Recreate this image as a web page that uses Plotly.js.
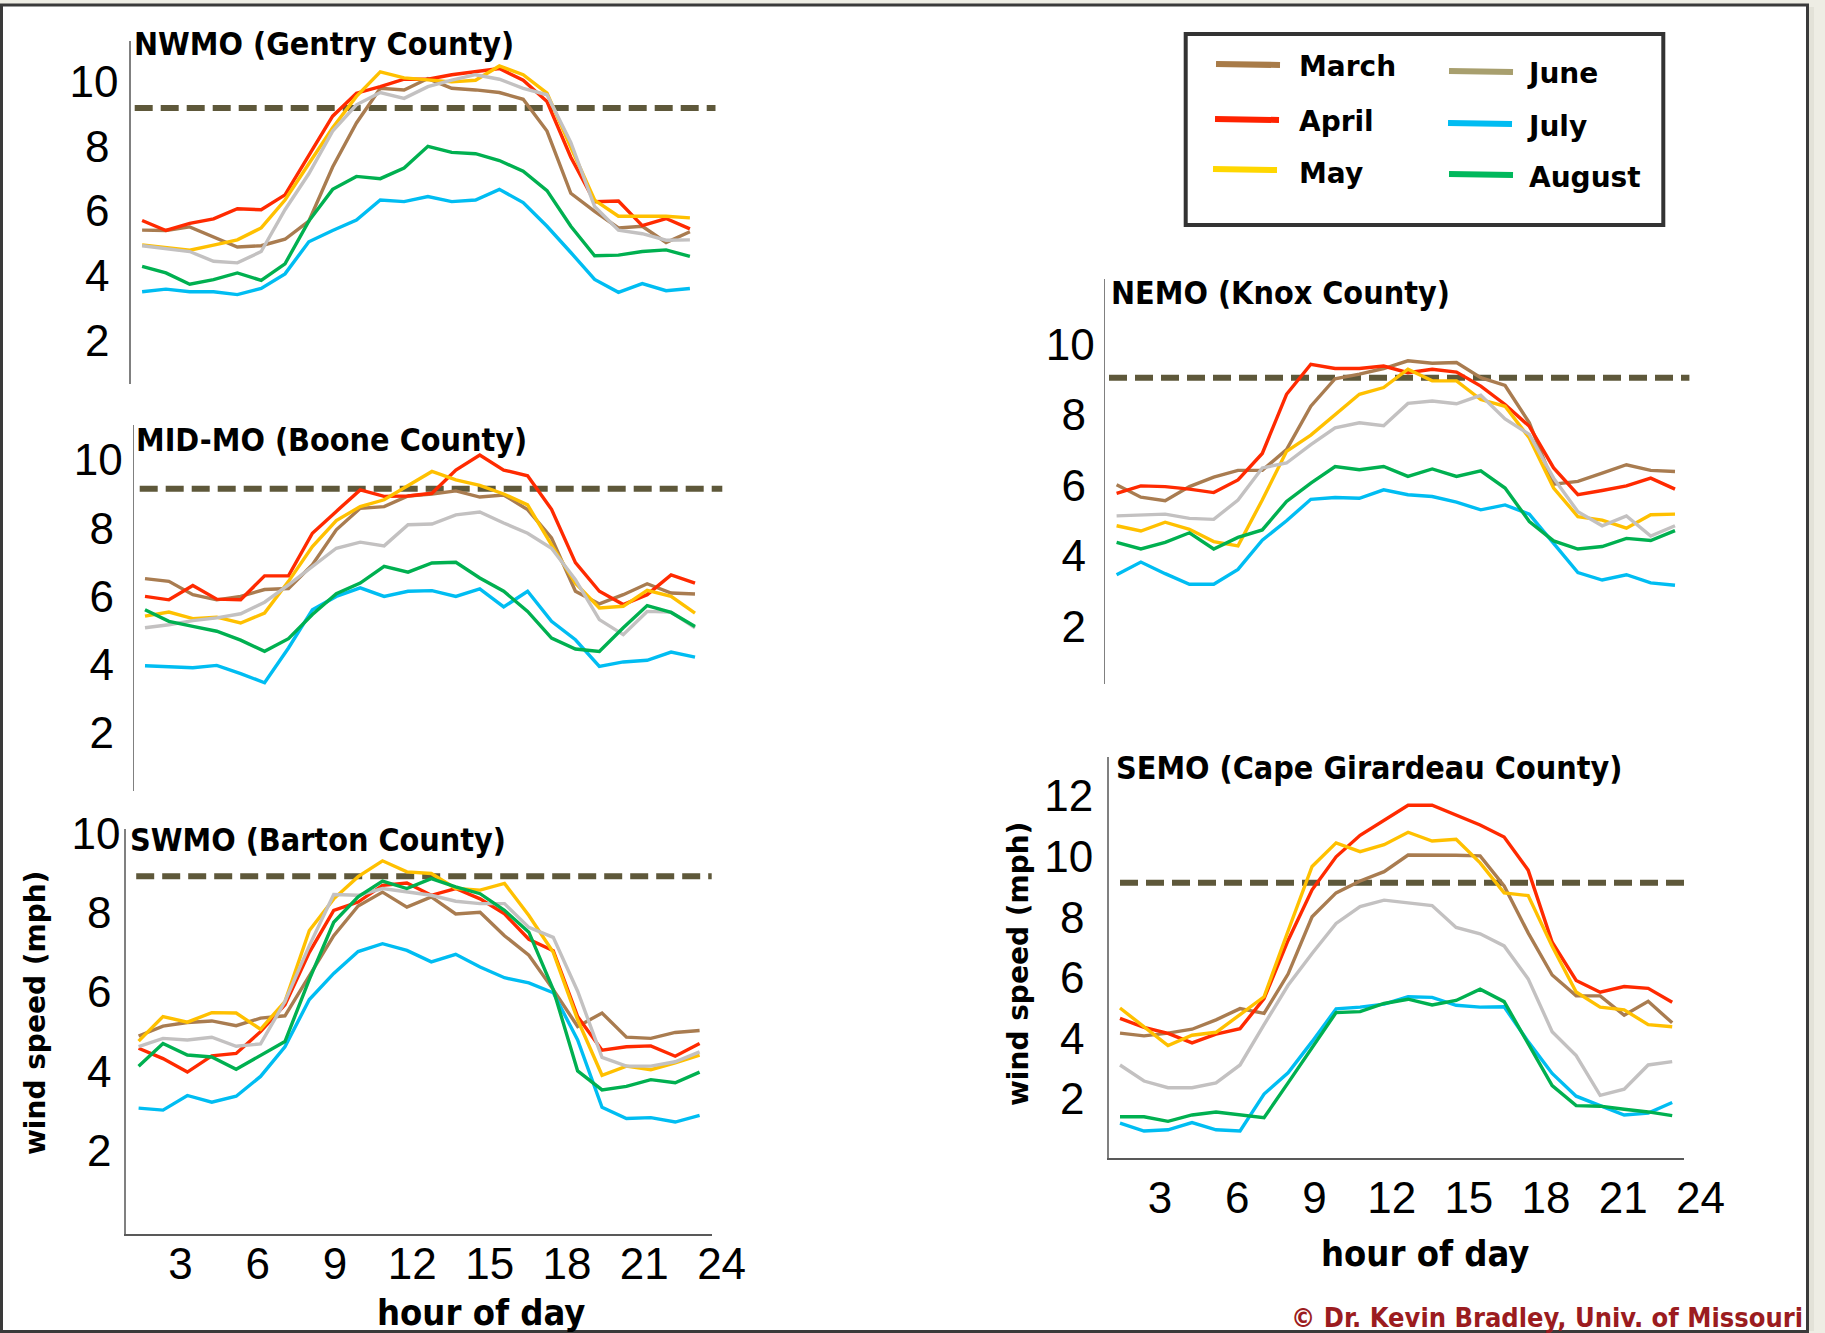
<!DOCTYPE html>
<html><head><meta charset="utf-8">
<script src="https://cdn.plot.ly/plotly-3.0.1.min.js"></script>
<style>html,body{margin:0;padding:0;background:#EEEDE4;}#chart{width:1825px;height:1333px;}</style>
</head><body><div id="chart"></div>
<script>
// ---------------- DATA ----------------
const hours = [1,2,3,4,5,6,7,8,9,10,11,12,13,14,15,16,17,18,19,20,21,22,23,24];
const months = ['March','April','May','June','July','August'];
const panelTitles = ['NWMO (Gentry County)','MID-MO (Boone County)','SWMO (Barton County)','NEMO (Knox County)','SEMO (Cape Girardeau County)'];
const thresholds = [9.18, 9.15, 8.92, 9.05, 9.13];
const yTickVals = [[2,4,6,8,10],[2,4,6,8,10],[2,4,6,8,10],[2,4,6,8,10],[2,4,6,8,10,12]];
const xTickVals = [3,6,9,12,15,18,21,24];
const xTitleText = 'hour of day';
const yTitleText = 'wind speed (mph)';
const creditText = '\u00A9 Dr. Kevin Bradley, Univ. of Missouri';

const nwmoMarch  = [5.41,5.40,5.51,5.21,4.89,4.93,5.13,5.69,7.36,8.72,9.79,9.74,10.09,9.79,9.74,9.66,9.45,8.47,6.55,5.99,5.48,5.53,5.03,5.36];
const nwmoApril  = [5.71,5.40,5.62,5.76,6.07,6.04,6.50,7.71,8.93,9.64,9.84,10.07,10.07,10.21,10.30,10.40,10.04,9.38,7.66,6.29,6.31,5.55,5.77,5.45];
const nwmoMay    = [4.95,4.87,4.79,4.95,5.11,5.48,6.34,7.46,8.57,9.54,10.30,10.11,10.04,9.99,10.04,10.48,10.21,9.64,7.97,6.34,5.84,5.84,5.84,5.79];
const nwmoJune   = [4.93,4.85,4.75,4.45,4.40,4.75,6.04,7.15,8.47,9.28,9.66,9.48,9.84,10.04,10.21,10.07,9.79,9.59,8.12,6.14,5.41,5.30,5.10,5.11];
const nwmoJuly   = [3.51,3.59,3.51,3.51,3.42,3.61,4.06,5.05,5.40,5.72,6.34,6.29,6.45,6.29,6.34,6.67,6.26,5.53,4.72,3.89,3.49,3.76,3.54,3.61];
const nwmoAugust = [4.29,4.09,3.74,3.88,4.09,3.86,4.37,5.69,6.67,7.07,7.00,7.33,8.00,7.81,7.77,7.56,7.23,6.63,5.53,4.62,4.64,4.75,4.80,4.60];

const midMarch  = [6.52,6.44,6.05,5.90,6.00,6.20,6.23,6.93,7.95,8.58,8.63,8.94,9.00,9.09,8.91,8.97,8.54,7.71,6.15,5.78,6.05,6.37,6.10,6.07];
const midApril  = [6.00,5.90,6.32,5.92,5.90,6.60,6.60,7.85,8.49,9.12,8.93,8.94,9.02,9.70,10.14,9.70,9.53,8.55,6.99,6.15,5.76,6.05,6.63,6.39];
const midMay    = [5.42,5.54,5.35,5.39,5.22,5.51,6.44,7.46,8.22,8.63,8.83,9.24,9.66,9.41,9.25,9.00,8.68,7.51,6.39,5.66,5.71,6.18,6.00,5.51];
const midJune   = [5.08,5.17,5.29,5.37,5.49,5.83,6.34,6.88,7.41,7.59,7.48,8.10,8.12,8.39,8.47,8.15,7.85,7.41,6.49,5.32,4.88,5.56,5.54,5.08];
const midJuly   = [3.97,3.93,3.91,3.98,3.74,3.47,4.49,5.61,6.00,6.25,6.00,6.15,6.17,6.00,6.22,5.69,6.15,5.27,4.73,3.95,4.08,4.13,4.37,4.22];
const midAugust = [5.61,5.27,5.12,4.98,4.72,4.39,4.76,5.47,6.08,6.39,6.88,6.71,6.98,7.00,6.54,6.15,5.56,4.78,4.46,4.39,5.08,5.73,5.53,5.12];

const swmoMarch  = [4.89,5.14,5.23,5.27,5.15,5.34,5.40,6.40,7.42,8.17,8.52,8.14,8.40,7.97,8.01,7.42,6.93,6.06,5.13,5.47,4.86,4.83,4.98,5.03];
const swmoApril  = [4.58,4.32,3.98,4.39,4.45,5.00,5.68,7.00,8.06,8.27,8.69,8.75,8.44,8.61,8.35,7.97,7.33,7.04,5.38,4.53,4.62,4.64,4.38,4.70];
const swmoMay    = [4.76,5.38,5.24,5.48,5.47,5.06,5.76,7.55,8.35,8.91,9.31,9.03,8.99,8.61,8.57,8.74,7.93,7.00,5.30,3.90,4.13,4.04,4.21,4.41];
const swmoJune   = [4.62,4.83,4.79,4.86,4.63,4.69,5.76,7.17,8.46,8.44,8.61,8.52,8.44,8.29,8.23,8.23,7.63,7.38,6.02,4.35,4.13,4.13,4.24,4.49];
const swmoJuly   = [3.07,3.02,3.39,3.22,3.37,3.87,4.62,5.81,6.47,7.02,7.22,7.05,6.76,6.95,6.63,6.36,6.23,5.98,4.79,3.09,2.81,2.83,2.72,2.89];
const swmoAugust = [4.13,4.70,4.41,4.36,4.05,4.41,4.75,6.32,7.76,8.40,8.80,8.61,8.86,8.65,8.48,8.06,7.51,6.06,4.01,3.53,3.62,3.79,3.71,3.98];

const nemoMarch  = [6.01,5.66,5.56,5.96,6.23,6.42,6.42,7.01,8.24,9.02,9.15,9.31,9.53,9.46,9.48,9.05,8.83,7.77,6.03,6.11,6.34,6.58,6.42,6.39];
const nemoApril  = [5.77,5.98,5.96,5.89,5.79,6.15,6.90,8.58,9.43,9.31,9.31,9.38,9.19,9.29,9.21,8.81,8.29,7.67,6.49,5.73,5.85,5.98,6.20,5.89];
const nemoMay    = [4.85,4.70,4.95,4.75,4.40,4.28,5.58,6.96,7.42,8.01,8.58,8.77,9.29,8.96,8.96,8.43,8.24,7.34,5.92,5.11,5.01,4.78,5.16,5.18];
const nemoJune   = [5.13,5.15,5.18,5.06,5.03,5.58,6.49,6.63,7.15,7.63,7.77,7.69,8.32,8.39,8.31,8.55,7.88,7.44,6.20,5.25,4.85,5.13,4.56,4.85];
const nemoJuly   = [3.46,3.82,3.49,3.19,3.19,3.61,4.44,4.99,5.60,5.65,5.63,5.87,5.73,5.68,5.52,5.30,5.44,5.18,4.35,3.52,3.31,3.46,3.23,3.16];
const nemoAugust = [4.38,4.19,4.38,4.65,4.19,4.52,4.73,5.54,6.06,6.53,6.44,6.53,6.25,6.46,6.25,6.41,5.92,4.97,4.42,4.19,4.26,4.49,4.43,4.71];

const semoMarch  = [4.17,4.08,4.17,4.30,4.61,4.98,4.82,6.12,8.01,8.80,9.19,9.50,10.05,10.05,10.04,10.02,9.03,7.48,6.09,5.40,5.40,4.76,5.22,4.51];
const semoApril  = [4.66,4.36,4.16,3.85,4.14,4.32,5.31,7.23,8.90,9.99,10.70,11.19,11.69,11.69,11.38,11.04,10.64,9.55,7.17,5.91,5.52,5.71,5.65,5.19];
const semoMay    = [5.00,4.38,3.76,4.10,4.20,4.78,5.37,7.54,9.67,10.45,10.16,10.39,10.80,10.51,10.57,9.79,8.80,8.71,7.04,5.53,5.03,4.94,4.45,4.38];
const semoJune   = [3.12,2.59,2.37,2.37,2.53,3.12,4.45,5.75,6.80,7.79,8.35,8.56,8.47,8.38,7.66,7.45,7.05,5.96,4.22,3.43,2.12,2.32,3.12,3.23];
const semoJuly   = [1.20,0.94,0.98,1.22,0.98,0.94,2.16,2.86,3.89,4.97,5.03,5.13,5.37,5.35,5.09,5.03,5.04,3.89,2.84,2.09,1.78,1.47,1.53,1.88];
const semoAugust = [1.41,1.41,1.26,1.47,1.57,1.47,1.38,2.53,3.70,4.85,4.88,5.15,5.29,5.10,5.25,5.62,5.21,3.83,2.44,1.78,1.76,1.66,1.57,1.45];

const panelSeries = [
  [nwmoMarch, nwmoApril, nwmoMay, nwmoJune, nwmoJuly, nwmoAugust],
  [midMarch, midApril, midMay, midJune, midJuly, midAugust],
  [swmoMarch, swmoApril, swmoMay, swmoJune, swmoJuly, swmoAugust],
  [nemoMarch, nemoApril, nemoMay, nemoJune, nemoJuly, nemoAugust],
  [semoMarch, semoApril, semoMay, semoJune, semoJuly, semoAugust]
];

// ---------------- STYLE / GEOMETRY ----------------
const lineColors   = ['#A97C50','#FF2A00','#FFC000','#C3C1C1','#00BDF2','#00B050'];
const legendColors = ['#A87B48','#FF2200','#FFD700','#A89F6E','#00BCF2','#00B85C'];
const W = 1825, H = 1333;
const geo = [
  {L:130.7,R:720,top:40.7,bottom:384,p1:142.1,p24:689.9,yr:[0.66,11.26],dash:[134.7,715.5],title:[131.5,44],xline:false,ystand:2},
  {L:134,R:726,top:425,bottom:791,p1:145,p24:695,yr:[0.30,11.02],dash:[139.7,722.3],title:[134,440],xline:false,ystand:1},
  {L:125.7,R:711.7,top:828.7,bottom:1233.8,p1:138.6,p24:699.6,yr:[-0.10,10.12],dash:[136.2,711.7],title:[128,840],xline:true,ystand:-5,
   lab:{p3:180.4,p24:721.6,R:745,stand:0},xt:[481,1312],yt:[35,1013]},
  {L:1105,R:1695,top:279,bottom:684,p1:1116.6,p24:1675,yr:[0.36,11.85],dash:[1109,1689.4],title:[1109,293],xline:false,ystand:0},
  {L:1108.5,R:1684,top:756.5,bottom:1158,p1:1120,p24:1672.2,yr:[0.05,13.30],dash:[1120,1684],title:[1114,768],xline:true,ystand:5,
   lab:{p3:1160,p24:1700.5,R:1725,stand:10},xt:[1424.6,1253.5],yt:[1018,964]}
];
const tickFont = {family:'Liberation Sans Narrow, Arial Narrow, sans-serif', size:44, color:'#000'};
const condBold = 'DejaVu Sans Condensed, DejaVu Sans, sans-serif';

const traces = [];
const layout = {
  width:W, height:H, margin:{l:0,r:0,t:0,b:0},
  paper_bgcolor:'#EEEDE4', plot_bgcolor:'rgba(0,0,0,0)', showlegend:false,
  shapes:[], annotations:[]
};
// frame
layout.shapes.push({type:'rect',xref:'paper',yref:'paper',x0:1808.5/W,x1:1814/W,y0:1-1331/H,y1:1-7/H,fillcolor:'#E3E2D8',line:{width:0},layer:'below'});
layout.shapes.push({type:'rect',xref:'paper',yref:'paper',x0:1.5/W,x1:1807.5/W,y0:1-1331.5/H,y1:1-5/H,fillcolor:'#FFFFFF',line:{color:'#3A3A3A',width:3},layer:'below'});

let extraAxis = 6;
geo.forEach((g,p)=>{
  const n = p===0 ? '' : String(p+1);
  const s = (g.p24-g.p1)/23;
  layout['xaxis'+n] = {domain:[g.L/W, g.R/W], range:[1-(g.p1-g.L)/s, 24+(g.R-g.p24)/s], anchor:'y'+n,
    showline:g.xline, linecolor:'#595959', linewidth:2, showticklabels:false, ticks:'', showgrid:false, zeroline:false};
  layout['yaxis'+n] = {domain:[1-g.bottom/H, 1-g.top/H], range:g.yr, anchor:'x'+n,
    showline:true, linecolor:'#808080', linewidth:1.5, tickmode:'array', tickvals:yTickVals[p],
    ticktext:yTickVals[p].map(v=> v<10 ? String(v)+'\u2009' : String(v)),
    tickfont:tickFont, ticks:'', ticklabelstandoff:g.ystand, showgrid:false, zeroline:false};
  // threshold dashed line
  layout.shapes.push({type:'line',xref:'paper',yref:'y'+n,x0:g.dash[0]/W,x1:g.dash[1]/W,y0:thresholds[p],y1:thresholds[p],
    line:{color:'#5E583A',width:6,dash:'18px,8px'},layer:'below'});
  // series
  panelSeries[p].forEach((vals,m)=>{
    traces.push({type:'scatter',mode:'lines',x:hours,y:vals,xaxis:'x'+n,yaxis:'y'+n,name:months[m],
      line:{color:lineColors[m],width:3.4},hoverinfo:'skip'});
  });
  // panel title
  layout.annotations.push({xref:'paper',yref:'paper',x:g.title[0]/W,y:1-g.title[1]/H,xanchor:'left',yanchor:'middle',
    text:panelTitles[p],showarrow:false,font:{family:condBold,size:32,color:'#000',weight:'bold'}});
  // hour tick labels axis + axis titles
  if (g.lab) {
    const k = (g.lab.p24-g.lab.p3)/21;
    const a = 3-(g.lab.p3-g.L)/k;
    const b = a+(g.lab.R-g.L)/k;
    const nm = String(extraAxis++);
    layout['xaxis'+nm] = {domain:[g.L/W, g.lab.R/W], range:[a,b], anchor:'y'+n, showline:false, showgrid:false, zeroline:false,
      ticks:'', tickmode:'array', tickvals:xTickVals, ticktext:xTickVals.map(String), tickfont:tickFont, ticklabelstandoff:g.lab.stand};
    traces.push({type:'scatter',mode:'lines',x:[],y:[],xaxis:'x'+nm,yaxis:'y'+n,hoverinfo:'skip'});
    layout.annotations.push({xref:'paper',yref:'paper',x:g.xt[0]/W,y:1-g.xt[1]/H,xanchor:'center',yanchor:'middle',
      text:xTitleText,showarrow:false,font:{family:condBold,size:36,color:'#000',weight:'bold'}});
    layout.annotations.push({xref:'paper',yref:'paper',x:g.yt[0]/W,y:1-g.yt[1]/H,xanchor:'center',yanchor:'middle',textangle:-90,
      text:yTitleText,showarrow:false,font:{family:'DejaVu Sans, sans-serif',size:28,color:'#000',weight:'bold'}});
  }
});

// legend (drawn box)
layout.shapes.push({type:'rect',xref:'paper',yref:'paper',x0:1185.7/W,x1:1663.3/W,y0:1-225/H,y1:1-34/H,fillcolor:'#FFFFFF',line:{color:'#333333',width:4}});
const legendPos = [
  {lx:[1216,1280],ly:64,tx:1297,ty:66.7},{lx:[1215,1279],ly:119,tx:1297,ty:121.7},{lx:[1213,1277],ly:169,tx:1297,ty:173},
  {lx:[1449,1513],ly:71,tx:1525,ty:73},{lx:[1448,1512],ly:123,tx:1525,ty:126.7},{lx:[1449,1513],ly:174,tx:1527,ty:178}
];
months.forEach((mName,m)=>{
  const lp = legendPos[m];
  layout.shapes.push({type:'line',xref:'paper',yref:'paper',x0:lp.lx[0]/W,x1:lp.lx[1]/W,y0:1-lp.ly/H,y1:1-(lp.ly+1)/H,
    line:{color:legendColors[m],width:6}});
  layout.annotations.push({xref:'paper',yref:'paper',x:lp.tx/W,y:1-lp.ty/H,xanchor:'left',yanchor:'middle',text:mName,showarrow:false,
    font:{family:'DejaVu Sans, sans-serif',size:28,color:'#000',weight:'bold'}});
});
// credit
layout.annotations.push({xref:'paper',yref:'paper',x:1805/W,y:1-1317.5/H,xanchor:'right',yanchor:'middle',text:creditText,showarrow:false,
  font:{family:condBold,size:27,color:'#9B1C20',weight:'bold'}});

Plotly.newPlot('chart', traces, layout, {displayModeBar:false, staticPlot:true});
</script></body></html>
